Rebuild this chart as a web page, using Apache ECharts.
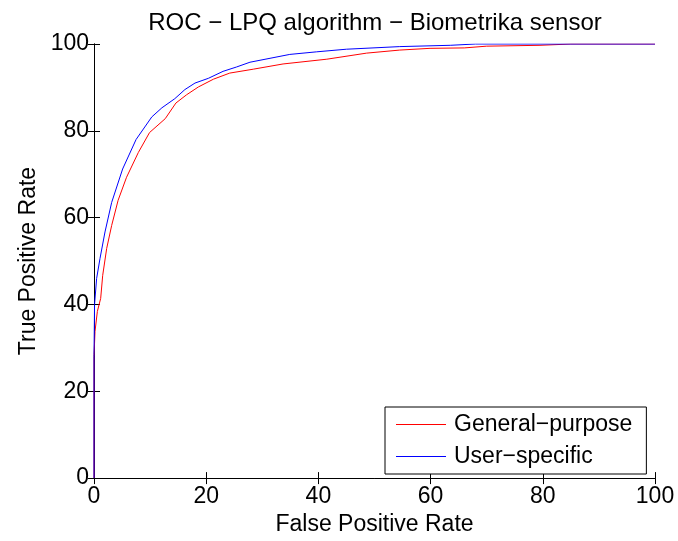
<!DOCTYPE html>
<html>
<head>
<meta charset="utf-8">
<script src="https://cdn.jsdelivr.net/npm/echarts@6/dist/echarts.min.js"></script>
<style>html,body{margin:0;padding:0;background:#fff}#c{width:678px;height:541px}</style>
</head>
<body>
<div id="c"></div>
<script>
var titleText = 'ROC \u2212 LPQ algorithm \u2212 Biometrika sensor';
var xLabel = 'False Positive Rate';
var yLabel = 'True Positive Rate';
var seriesNames = ['General\u2212purpose', 'User\u2212specific'];
var generalPurpose = [[0,0],[0,28],[0.18,33.8],[0.6,38.4],[1.19,41.4],[1.55,46.7],[2.26,52.9],[3.15,58.2],[4.3,64],[5.8,69.3],[7.9,75.0],[9.9,79.6],[12.7,82.8],[14.6,86.4],[16.5,88.3],[18.6,90.1],[21.3,91.9],[24.2,93.3],[28.4,94.2],[33.7,95.4],[41.5,96.5],[48.6,97.9],[54.5,98.6],[59.9,99.0],[66,99.1],[70,99.5],[79.5,99.7],[85,100],[100,100]];
var userSpecific = [[0,0],[0,28.5],[0.1,40],[0.47,46],[1.07,50.6],[1.96,56.7],[3.15,63.5],[5.1,71.2],[7.5,78.0],[10.3,83.2],[12.1,85.3],[14.4,87.4],[16.2,89.5],[18.0,91.0],[20.4,92.1],[23.0,93.7],[25.4,94.7],[27.8,95.8],[34.9,97.6],[39.7,98.2],[45,98.8],[54.5,99.4],[63.5,99.7],[68,100],[100,100]];
var axisMin = 0, axisMax = 100, axisStep = 20;

var font = 'Liberation Sans, Arial, Helvetica, sans-serif';
var chart = echarts.init(document.getElementById('c'));
function axisBase(show) {
  return {
    type: 'value', min: axisMin, max: axisMax, interval: axisStep,
    axisLine: {show: true, lineStyle: {color: '#000', width: 1}},
    axisTick: {show: true, inside: true, length: 6, lineStyle: {color: '#000'}},
    axisLabel: {show: show, color: '#000', fontSize: 23, fontFamily: font},
    splitLine: {show: false}
  };
}
var xb = axisBase(true);
xb.position = 'bottom'; xb.name = xLabel; xb.nameLocation = 'middle'; xb.nameGap = 32;
xb.nameTextStyle = {color: '#000', fontSize: 23, fontFamily: font};
xb.axisLabel.margin = 7;
var xt = axisBase(false); xt.position = 'top';
var yl = axisBase(true);
yl.position = 'left'; yl.name = yLabel; yl.nameLocation = 'middle'; yl.nameGap = 54;
yl.nameTextStyle = {color: '#000', fontSize: 23, fontFamily: font};
yl.axisLabel.margin = 5;
var yr = axisBase(false); yr.position = 'right';

chart.setOption({
  backgroundColor: '#fff',
  animation: false,
  title: {text: titleText, left: 370, top: 6, textAlign: 'center',
    textStyle: {fontSize: 24, fontWeight: 'normal', color: '#000', fontFamily: font}},
  grid: {left: 94, right: 23, top: 44, bottom: 60, containLabel: false},
  xAxis: [xb, xt],
  yAxis: [yl, yr],
  legend: {
    data: seriesNames, orient: 'vertical', left: 385, top: 407,
    backgroundColor: '#fff', borderColor: '#000', borderWidth: 1, borderRadius: 0,
    padding: [6, 14, 6, 11], itemGap: 9, itemWidth: 50, itemHeight: 1, icon: 'rect',
    textStyle: {fontSize: 23, color: '#000', fontFamily: font, lineHeight: 20, padding: [0,0,0,3]}
  },
  series: [
    {name: seriesNames[0], type: 'line', data: generalPurpose, xAxisIndex: 0, yAxisIndex: 0,
     showSymbol: false, symbol: 'none', lineStyle: {color: '#ff0000', width: 1}, itemStyle: {color: '#ff0000'}},
    {name: seriesNames[1], type: 'line', data: userSpecific, xAxisIndex: 0, yAxisIndex: 0,
     showSymbol: false, symbol: 'none', lineStyle: {color: '#0000ff', width: 1}, itemStyle: {color: '#0000ff'}}
  ]
});
</script>
</body>
</html>
